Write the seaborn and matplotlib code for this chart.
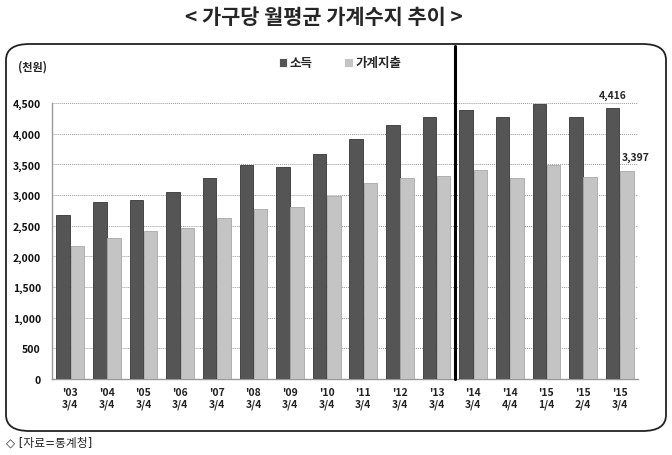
import numpy as np
import pandas as pd
import matplotlib
matplotlib.use('Agg')
import matplotlib.pyplot as plt
from matplotlib.patches import FancyBboxPatch
from matplotlib.ticker import FuncFormatter, FixedLocator
import seaborn as sns

# 데이터 (천원)
periods = ["'03\n3/4", "'04\n3/4", "'05\n3/4", "'06\n3/4", "'07\n3/4", "'08\n3/4",
           "'09\n3/4", "'10\n3/4", "'11\n3/4", "'12\n3/4", "'13\n3/4", "'14\n3/4",
           "'14\n4/4", "'15\n1/4", "'15\n2/4", "'15\n3/4"]
income = [2675, 2880, 2923, 3043, 3271, 3488, 3450, 3662, 3910, 4140, 4270, 4390,
          4270, 4490, 4270, 4416]
spending = [2163, 2293, 2412, 2456, 2619, 2770, 2808, 2988, 3190, 3271, 3308, 3411,
            3271, 3493, 3287, 3397]
series_names = ['소득', '가계지출']
bar_colors = ['#555555', '#c4c4c4']
edge_colors = ['#363636', '#a8a8a8']

df = pd.DataFrame({
    'period': periods * 2,
    'value': income + spending,
    'series': [series_names[0]] * len(periods) + [series_names[1]] * len(periods),
})

sns.set_style('white')
plt.rcParams['font.family'] = ['Noto Sans CJK KR', 'DejaVu Sans']

fig = plt.figure(figsize=(6.72, 4.56), dpi=100)
W, H = 672, 456

# 둥근 테두리
box = FancyBboxPatch((6 / W, 1 - 432 / H), 660 / W, 387 / H,
                     boxstyle='round,pad=0,rounding_size=0.035',
                     transform=fig.transFigure, facecolor='white',
                     edgecolor='#222222', linewidth=1.3, zorder=-5)
fig.patches.append(box)

ax = fig.add_axes([52 / W, 1 - 380 / H, 586 / W, 276 / H])
ax.set_facecolor('none')
ax.set_zorder(2)

sns.barplot(data=df, x='period', y='value', hue='series', ax=ax,
            palette=bar_colors, width=0.78, gap=0.05,
            linewidth=0.6, saturation=1, zorder=3)

for cont, ec in zip(ax.containers, edge_colors):
    for bar in cont:
        bar.set_edgecolor(ec)

ax.set_ylim(0, 4500)
ax.set_xlim(-0.5, len(periods) - 0.5)
ax.set_yticks(np.arange(0, 4501, 500))
ax.yaxis.set_major_formatter(FuncFormatter(lambda v, p: f'{int(v):,}'))
ax.grid(axis='y', color='#9a9a9a', linestyle=(0, (1, 1)), linewidth=0.7, zorder=0)
ax.set_axisbelow(True)
ax.set_xlabel('')
ax.set_ylabel('')

for s in ['top', 'right']:
    ax.spines[s].set_visible(False)
for s in ['left', 'bottom']:
    ax.spines[s].set_color('#999999')
    ax.spines[s].set_linewidth(1)

ax.tick_params(axis='y', length=0, pad=8, labelsize=7.5, labelcolor='#111111')
ax.tick_params(axis='x', length=0, pad=6, labelsize=7.5, labelcolor='#222222')
for lbl in ax.get_xticklabels() + ax.get_yticklabels():
    lbl.set_fontweight('bold')
ax.xaxis.set_minor_locator(FixedLocator(np.arange(-0.5, len(periods), 1)))
ax.tick_params(axis='x', which='minor', length=3, color='#999999')

# 구분선
top_frac = ((1 - 47 / H) - (1 - 380 / H)) / (276 / H)
ax.axvline(10.5, ymin=0, ymax=top_frac, color='black', linewidth=2.2,
           clip_on=False, zorder=5)

# 마지막 값 라벨
last = len(periods) - 1
ax.text(last - 0.2, income[-1] + 220, f'{income[-1]:,}', ha='center', va='center',
        fontsize=7.5, fontweight='bold', clip_on=False)
ax.text(last + 0.45, spending[-1] + 225, f'{spending[-1]:,}', ha='center', va='center',
        fontsize=7.5, fontweight='bold', clip_on=False)

# 범례
handles, labels = ax.get_legend_handles_labels()
leg = ax.legend(handles, labels, loc='center', bbox_to_anchor=(340 / W, 1 - 64 / H),
                bbox_transform=fig.transFigure, ncol=2, frameon=False,
                handlelength=0.7, handleheight=0.7, handletextpad=0.2,
                columnspacing=2.5, prop={'weight': 'bold', 'size': 9})

fig.text(18 / W, 1 - 67 / H, '(천원)', fontsize=8, fontweight='bold',
         va='center', ha='left', color='#222222')
fig.text(324 / W, 1 - 18 / H, '< 가구당 월평균 가계수지 추이 >', fontsize=15,
         fontweight='bold', ha='center', va='center')
fig.text(6 / W, 1 - 443 / H, '◇ [자료=통계청]', fontsize=8.5, ha='left',
         va='center', family=['DejaVu Sans', 'Noto Sans CJK KR'])

fig.savefig('out.png', dpi=100)
